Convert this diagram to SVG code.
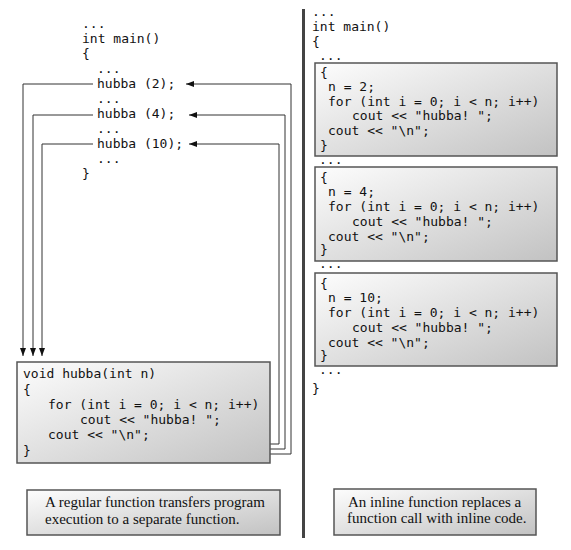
<svg xmlns="http://www.w3.org/2000/svg" width="571" height="550" viewBox="0 0 571 550">
<style>
.code{font-family:"DejaVu Sans Mono","Liberation Mono",monospace;font-size:13px;fill:#111}
.cap{font-family:"Liberation Serif","Times New Roman",serif;font-size:15px;fill:#111}
.box{fill:url(#grad);stroke:#555;stroke-width:1.5}
.conn{fill:none;stroke:#333;stroke-width:1}
</style>
<defs>
<linearGradient id="grad" x1="0" y1="0" x2="1" y2="1">
<stop offset="0" stop-color="#fdfdfd"/>
<stop offset="1" stop-color="#c2c2c2"/>
</linearGradient>
<marker id="arr" viewBox="0 0 8 6" refX="8" refY="3" markerWidth="8" markerHeight="6" markerUnits="userSpaceOnUse" orient="auto">
<path d="M0,0 L8,3 L0,6 Z" fill="#111"/>
</marker>
</defs>
<rect width="571" height="550" fill="#fff"/>

<g id="main-regular">
<text class="code" x="82" y="28">...</text>
<text class="code" x="82" y="43">int main()</text>
<text class="code" x="82" y="58">{</text>
<text class="code" x="97" y="73">...</text>
<text class="code" x="97" y="88">hubba (2);</text>
<text class="code" x="97" y="103">...</text>
<text class="code" x="97" y="118">hubba (4);</text>
<text class="code" x="97" y="133">...</text>
<text class="code" x="97" y="148">hubba (10);</text>
<text class="code" x="97" y="163">...</text>
<text class="code" x="82" y="178">}</text>
</g>

<g id="connectors">
<path class="conn" d="M93,84 H23 V356" marker-end="url(#arr)"/>
<path class="conn" d="M93,115 H33 V356" marker-end="url(#arr)"/>
<path class="conn" d="M93,144 H42 V356" marker-end="url(#arr)"/>
<path class="conn" d="M270,454 H291 V84 H186" marker-end="url(#arr)" stroke="#666"/>
<path class="conn" d="M270,449 H285 V115 H189" marker-end="url(#arr)"/>
<path class="conn" d="M270,444 H279 V144 H189" marker-end="url(#arr)"/>
</g>

<g id="function-hubba">
<rect class="box" x="17" y="362" width="253" height="101"/>
<text class="code" x="23" y="378">void hubba(int n)</text>
<text class="code" x="23" y="394">{</text>
<text class="code" x="48" y="409">for (int i = 0; i &lt; n; i++)</text>
<text class="code" x="80" y="424">cout &lt;&lt; "hubba! ";</text>
<text class="code" x="48" y="439">cout &lt;&lt; "\n";</text>
<text class="code" x="23" y="455">}</text>
</g>

<g id="caption-regular">
<rect class="box" x="27" y="490" width="253" height="45"/>
<text class="cap" x="45" y="507">A regular function transfers program</text>
<text class="cap" x="45" y="524">execution to a separate function.</text>
</g>

<g id="divider">
<rect x="302" y="9" width="3" height="529" fill="#444"/>
</g>

<g id="main-inline">
<text class="code" x="312" y="16">...</text>
<text class="code" x="312" y="31">int main()</text>
<text class="code" x="312" y="46">{</text>
<text class="code" x="319" y="60">...</text>
<text class="code" x="319" y="164">...</text>
<text class="code" x="319" y="268">...</text>
<text class="code" x="319" y="374">...</text>
<text class="code" x="312" y="393">}</text>
</g>

<g id="inline-2">
<rect class="box" x="315" y="63" width="242" height="93"/>
<text class="code" x="320" y="77">{</text>
<text class="code" x="328" y="91">n = 2;</text>
<text class="code" x="328" y="106">for (int i = 0; i &lt; n; i++)</text>
<text class="code" x="352" y="120">cout &lt;&lt; "hubba! ";</text>
<text class="code" x="328" y="135">cout &lt;&lt; "\n";</text>
<text class="code" x="320" y="150">}</text>
</g>

<g id="inline-4">
<rect class="box" x="315" y="167" width="242" height="94"/>
<text class="code" x="320" y="182">{</text>
<text class="code" x="328" y="196">n = 4;</text>
<text class="code" x="328" y="211">for (int i = 0; i &lt; n; i++)</text>
<text class="code" x="352" y="226">cout &lt;&lt; "hubba! ";</text>
<text class="code" x="328" y="241">cout &lt;&lt; "\n";</text>
<text class="code" x="320" y="254">}</text>
</g>

<g id="inline-10">
<rect class="box" x="315" y="273" width="242" height="93"/>
<text class="code" x="320" y="288">{</text>
<text class="code" x="328" y="302">n = 10;</text>
<text class="code" x="328" y="317">for (int i = 0; i &lt; n; i++)</text>
<text class="code" x="352" y="332">cout &lt;&lt; "hubba! ";</text>
<text class="code" x="328" y="347">cout &lt;&lt; "\n";</text>
<text class="code" x="320" y="360">}</text>
</g>

<g id="caption-inline">
<rect class="box" x="334" y="489" width="202" height="46"/>
<text class="cap" x="348" y="507">An inline function replaces a</text>
<text class="cap" x="347" y="523">function call with inline code.</text>
</g>
</svg>
